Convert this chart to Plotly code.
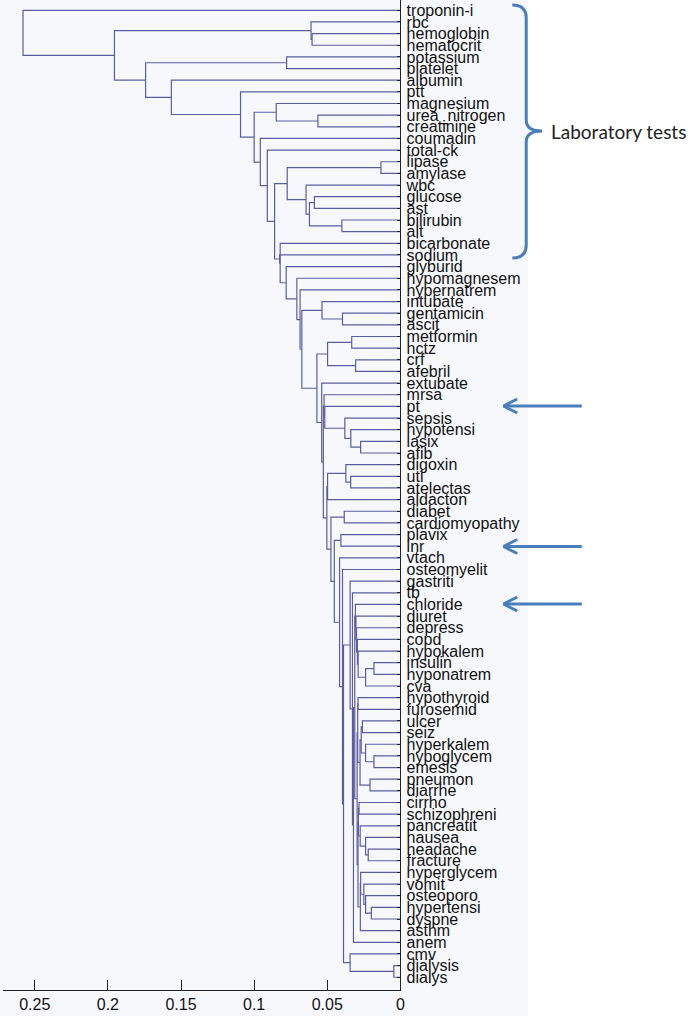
import plotly.graph_objects as go

W, H = 700, 1016

leaves = ["troponin-i", "rbc", "hemoglobin", "hematocrit", "potassium", "platelet", "albumin", "ptt",
          "magnesium", "urea_nitrogen", "creatinine", "coumadin", "total-ck", "lipase", "amylase", "wbc",
          "glucose", "ast", "bilirubin", "alt", "bicarbonate", "sodium", "glyburid", "hypomagnesem",
          "hypernatrem", "intubate", "gentamicin", "ascit", "metformin", "hctz", "crf", "afebril",
          "extubate", "mrsa", "pt", "sepsis", "hypotensi", "lasix", "afib", "digoxin", "uti", "atelectas",
          "aldacton", "diabet", "cardiomyopathy", "plavix", "inr", "vtach", "osteomyelit", "gastriti", "tb",
          "chloride", "diuret", "depress", "copd", "hypokalem", "insulin", "hyponatrem", "cva", "hypothyroid",
          "furosemid", "ulcer", "seiz", "hyperkalem", "hypoglycem", "emesis", "pneumon", "diarrhe", "cirrho",
          "schizophreni", "pancreatit", "nausea", "headache", "fracture", "hyperglycem", "vomit", "osteoporo",
          "hypertensi", "dyspne", "asthm", "anem", "cmv", "dialysis", "dialys"]

# linkage: merged cluster name, its two children (leaf or cluster) and the merge height
merge_name = ["hh", "rbc3", "kp", "uc", "mg3", "la", "ga", "ba", "gaba", "wbc5", "lawbc",
              "genta", "intT", "mh", "ca", "mhca",
              "lasaf", "hypo3", "seps", "ptg", "mp",
              "ua", "dua", "al", "db", "dbn", "pi", "pin",
              "ih", "ihc", "k1", "k2", "k3", "k4", "k5",
              "hfu", "us", "he", "hke", "ush", "pd", "b1", "b2",
              "hf", "nhf", "pn", "cs", "c1", "hd", "ohd", "vo", "hgv", "as", "c2",
              "bc", "kb", "an", "tbn", "gan", "dd", "cmvg", "cm", "os", "vt",
              "ald", "n326", "extY", "X", "R", "natQ", "hypoP", "glyO", "bicN", "naN2",
              "I", "G", "F", "C", "A", "alb", "K7", "big", "root"]
merge_left = ["hemoglobin", "rbc", "potassium", "urea_nitrogen", "magnesium", "lipase", "glucose", "bilirubin",
              "ga", "wbc", "la",
              "gentamicin", "intubate", "metformin", "crf", "mh",
              "lasix", "hypotensi", "sepsis", "pt", "mrsa",
              "uti", "digoxin", "dua", "diabet", "db", "plavix", "pi",
              "insulin", "ih", "hypokalem", "copd", "depress", "diuret", "chloride",
              "hypothyroid", "ulcer", "hypoglycem", "hyperkalem", "us", "pneumon", "ush", "hfu",
              "headache", "nausea", "pancreatit", "cirrho", "cs", "hypertensi", "osteoporo", "vomit",
              "hyperglycem", "hgv", "c1",
              "b2", "k5", "kb", "tb", "gastriti", "dialysis", "cmv", "gan", "osteomyelit", "vtach",
              "al", "mp", "extubate", "mhca", "intT", "hypernatrem", "hypomagnesem", "glyburid", "bicarbonate",
              "sodium", "lawbc", "total-ck", "coumadin", "mg3", "ptt", "albumin", "kp", "rbc3", "troponin-i"]
merge_right = ["hematocrit", "hh", "platelet", "creatinine", "uc", "amylase", "ast", "alt",
               "ba", "gaba", "wbc5",
               "ascit", "genta", "hctz", "afebril", "ca",
               "afib", "lasaf", "hypo3", "seps", "ptg",
               "atelectas", "ua", "aldacton", "cardiomyopathy", "pin", "inr", "vt",
               "hyponatrem", "cva", "ihc", "k1", "k2", "k3", "k4",
               "furosemid", "seiz", "emesis", "he", "hke", "diarrhe", "pd", "b1",
               "fracture", "hf", "nhf", "schizophreni", "pn", "dyspne", "hd", "ohd",
               "vo", "asthm", "as",
               "c2", "bc", "anem", "an", "tbn", "dialys", "dd", "cmvg", "cm", "os",
               "dbn", "ald", "n326", "extY", "X", "R", "natQ", "hypoP", "glyO",
               "bicN", "naN2", "I", "G", "F", "C", "A", "alb", "K7", "big"]
merge_height = [0.0604, 0.0611, 0.0778, 0.0564, 0.0849, 0.0133, 0.0588, 0.0400, 0.0622, 0.0645, 0.0774,
                0.0396, 0.0536, 0.0333, 0.0306, 0.0498,
                0.0272, 0.0339, 0.0380, 0.0517, 0.0522,
                0.0340, 0.0373, 0.0498, 0.0384, 0.0475, 0.0407, 0.0452,
                0.0181, 0.0238, 0.0289, 0.0294, 0.0300, 0.0304, 0.0308,
                0.0290, 0.0260, 0.0181, 0.0238, 0.0268, 0.0208, 0.0276, 0.0292,
                0.0220, 0.0238, 0.0275, 0.0283, 0.0287, 0.0199, 0.0238, 0.0250, 0.0272, 0.0274, 0.0290,
                0.0296, 0.0312, 0.0321, 0.0328, 0.0344, 0.0045, 0.0344, 0.0389, 0.0396, 0.0416,
                0.0503, 0.0527, 0.0538, 0.0571, 0.0674, 0.0686, 0.0708, 0.0781, 0.0822,
                0.0826, 0.0860, 0.0910, 0.0958, 0.1000, 0.1093, 0.1566, 0.1742, 0.1955, 0.2580]

xtick_vals = [0, 0.05, 0.1, 0.15, 0.2, 0.25]
xtick_text = ["0", "0.05", "0.1", "0.15", "0.2", "0.25"]

# ---- build the U-shaped links from the linkage (order independent) ----
links = {n: (a, b, h) for n, a, b, h in zip(merge_name, merge_left, merge_right, merge_height)}
pos = {name: i + 1 for i, name in enumerate(leaves)}
hgt = {name: 0.0 for name in leaves}
xs, ys = [], []


def resolve(n):
    if n in pos:
        return pos[n], hgt[n]
    a, b, h = links[n]
    ya, ha = resolve(a)
    yb, hb = resolve(b)
    xs.extend([ha, h, h, hb, None])
    ys.extend([ya, ya, yb, yb, None])
    pos[n] = (ya + yb) / 2
    hgt[n] = h
    return pos[n], h


for n in merge_name:
    resolve(n)

fig = go.Figure()
fig.add_trace(go.Scatter(x=xs, y=ys, mode="lines", line=dict(color="rgb(92,92,160)", width=1.2),
                         hoverinfo="skip", showlegend=False))

px = lambda X: X / W
py = lambda Y: 1 - Y / H

x_left_val = 0.2715
y_top_val = 1 - 10.3 / 11.65
y_bot_val = 1 + (990 - 10.3) / 11.65

fig.update_layout(
    width=W, height=H, margin=dict(l=0, r=0, t=0, b=0),
    paper_bgcolor="white", plot_bgcolor="#f7f8fc",
    xaxis=dict(domain=[px(3.3), px(403.3)], range=[x_left_val, 0], tickvals=xtick_vals, ticktext=xtick_text,
               ticks="inside", ticklen=10, tickcolor="#222", showline=True, linecolor="#222", linewidth=1,
               showgrid=False, zeroline=False,
               tickfont=dict(family="Liberation Sans", size=16, color="#111")),
    yaxis=dict(domain=[1 - 990 / H, 1], range=[y_bot_val, y_top_val], side="right", tickvals=list(range(1, 85)),
               ticktext=leaves, ticks="inside", ticklen=3, tickcolor="#222", showline=True, linecolor="#222",
               linewidth=1, showgrid=False, zeroline=False, ticklabelstandoff=2,
               tickfont=dict(family="Liberation Sans", size=16, color="#111")),
    font=dict(family="Liberation Sans"),
)

fig.add_shape(type="rect", xref="paper", yref="paper", x0=0, x1=px(532), y0=0, y1=1,
              fillcolor="#f7f8fc", line=dict(width=0), layer="below")

blue = "#4a7ebb"
brace = (f"M {px(516)},{py(5)} Q {px(530)},{py(5)} {px(530)},{py(18)} L {px(530)},{py(120)} "
         f"Q {px(530)},{py(131)} {px(546)},{py(131)} Q {px(530)},{py(131)} {px(530)},{py(142)} "
         f"L {px(530)},{py(245)} Q {px(530)},{py(258)} {px(516)},{py(258)}")
fig.add_shape(type="path", xref="paper", yref="paper", path=brace, line=dict(color=blue, width=3))
fig.add_annotation(xref="paper", yref="paper", x=px(553), y=py(131), text="Laboratory tests", showarrow=False,
                   xanchor="left", yanchor="middle", font=dict(family="Lato", size=19, color="#222"))

for ay in [406, 546.5, 604]:
    fig.add_shape(type="line", xref="paper", yref="paper", x0=px(507), y0=py(ay), x1=px(586), y1=py(ay),
                  line=dict(color=blue, width=3))
    fig.add_shape(type="line", xref="paper", yref="paper", x0=px(507), y0=py(ay), x1=px(521), y1=py(ay - 7),
                  line=dict(color=blue, width=3))
    fig.add_shape(type="line", xref="paper", yref="paper", x0=px(507), y0=py(ay), x1=px(521), y1=py(ay + 7),
                  line=dict(color=blue, width=3))

fig.write_html("out.html", config={"displayModeBar": False},
               post_script="document.body.style.margin='0px';")
